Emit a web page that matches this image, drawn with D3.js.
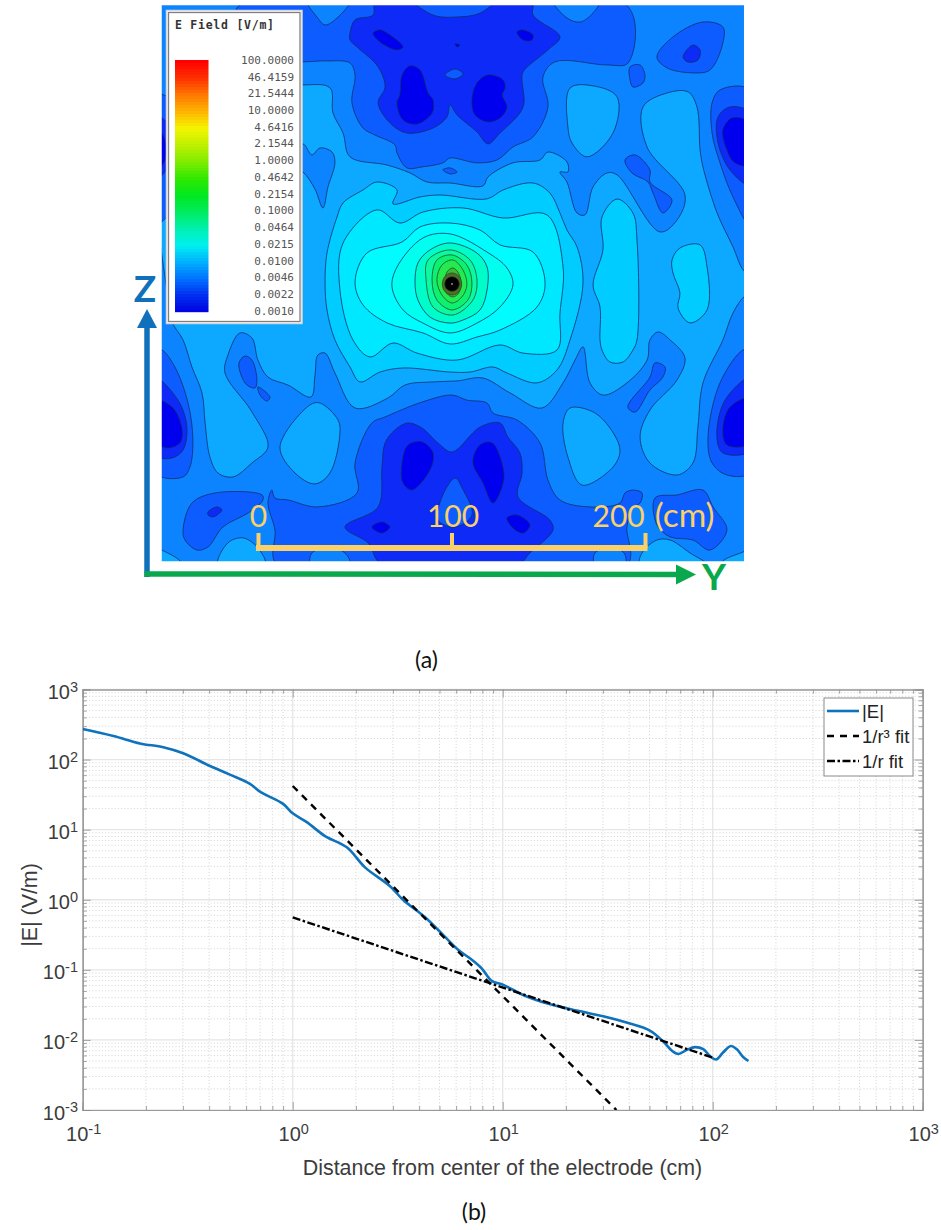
<!DOCTYPE html>
<html><head><meta charset="utf-8">
<script src="https://cdn.jsdelivr.net/npm/d3@7"></script>
<style>html,body{margin:0;padding:0;background:#fff}svg{display:block}</style>
</head><body><svg id="c" width="941" height="1230"></svg>
<script>
// ---------- (b) line chart data (r in cm, |E| in V/m) ----------
const radius = [0.1,0.14,0.1875,0.242,0.301,0.404,0.502,0.626,0.698,0.90,1.0,1.167,1.426,1.81,2.21,2.9,3.36,4.27,5.2,6.15,6.98,7.94,8.87,10.07,12.5,16.2,22.5,30.1,38.9,50.2,58.2,63.8,68.6,75.2,82.4,90.2,97,103.7,112,122,130,140,148];
const eField = [273,217,170,150,123,81,61,45,34.8,23.3,17.1,12.8,8.1,5.6,2.9,1.57,0.99,0.562,0.315,0.192,0.146,0.105,0.0695,0.061,0.0438,0.0333,0.0262,0.0218,0.01766,0.0136,0.00946,0.00705,0.0063,0.0072,0.0079,0.00736,0.0059,0.00525,0.0066,0.0082,0.00741,0.00566,0.005];
const fitCubeR = [1,34.8], fitCubeE = [42,0.001];
const fitInvR = [1,100], fitInvE = [0.56,0.0056];
const decadeX = [0.1,1,10,100,1000], decadeY = [0.001,0.01,0.1,1,10,100,1000];
const legendB = ["|E|","1/r³ fit","1/r fit"];

// ---------- (a) field map: contour outlines as [Y cm, Z cm], each with its level ----------
const legendLabels = ["100.0000","46.4159","21.5444","10.0000","4.6416","2.1544","1.0000","0.4642","0.2154","0.1000","0.0464","0.0215","0.0100","0.0046","0.0022","0.0010"];
const barValues = [100,46.4159,21.5444,10,4.6416,2.1544,1,0.4642,0.2154,0.1,0.0464,0.0215,0.01,0.0046,0.0022,0.001];
const barColors = ["#ff0000","#ff3000","#ff7800","#ffb400","#f4f400","#c0f000","#80ec00","#30e800","#00e820","#00ec60","#00f0b0","#00f0f0","#00b0ff","#0070ff","#0030f0","#0000e0"];
const levelColors = ["#0000ee","#0a2cf6","#0a5cff","#0a84ff","#0aa8ff","#00ccff","#00e8ff","#00fcff","#00ffee","#00fcc8","#08f8a0","#10f070","#28e850","#3fb838","#5a6a28","#000000"];

const topL3=[[-10,144],[190.4,144],[191,114.2],[180,113.2],[153.2,114.8],[147,107],[149.6,91.5],[141.8,76],[131.5,70.8],[123.3,64.1],[112.9,62.6],[99,65.1],[95.3,62.6],[84.5,60.5],[76.7,60],[71.6,67.7],[70.5,71.9],[60.2,77],[54,80.6],[48.3,93.6],[49.9,108],[47.3,114.2],[35.4,115.3],[23,114.8],[-10,114.8]];
const topLobeL=[[25,147],[30.2,138],[34.4,133.9],[40.6,137.5],[47.5,147]];
const topLobeR=[[152,147],[159.4,137.5],[166.1,135.4],[172.9,140.1],[176.5,147]];
const topL2=[[47.3,129.7],[49.9,136.5],[59.2,139],[60.7,147],[141.3,147],[141.9,139],[155.8,127.7],[149.6,121],[136.7,109.6],[136.2,105.5],[137.2,93.6],[135.1,88.4],[124.8,78],[118.6,72.4],[112.9,78.6],[102.6,87.4],[99,92.5],[97.4,86.3],[90.2,80.6],[76.7,78],[68,83.2],[61.8,93.6],[65.4,101.8],[61.8,112.2],[50.9,122.5],[47.3,126.1]];
const topCenterLobe=[[79.8,147],[90.2,139],[102.6,138],[114.5,140],[122.2,147]];
const topBlobL=[[71.6,93.6],[73.1,97.7],[74.2,108],[78.3,112.7],[83.5,110.6],[87.6,98.7],[90.2,95.1],[89.7,88.4],[81.9,82.7],[74.7,84.8]];
const topBlobR=[[110.3,95.1],[112.9,103.9],[118.6,108],[126.4,105.5],[127.4,101.3],[125.9,97.7],[128.4,91.5],[124.8,85.8],[118.6,83.8],[111.9,87.4]];
const topDashL=[[59.2,129.7],[62.8,131.3],[66.4,129.7],[74.7,122.5],[71.6,121],[62.8,125.1]];
const topDashR=[[133.6,130.2],[136.2,131.3],[141.9,128.7],[141.3,126.1],[136.7,126.1]];
const topSpeck=[[101.6,124.1],[104.1,123.5],[102.6,122.5]];
const topIsle=[[96.4,108],[101.6,111.1],[105.7,108.6],[101.6,106]];
const topIsle2=[[95.3,59],[99,60],[102.6,57.9],[99,56.9]];

const mainL5=[[23,102.9],[37,101.3],[38.5,88.4],[43.7,78],[47.3,65.7],[66.4,61.5],[78.3,57.4],[87.1,52.7],[99,52.2],[116,50.7],[118.6,55.3],[131.5,62.6],[145.5,64.1],[149.6,68.2],[159.4,63.1],[159.9,57.9],[155.8,57.9],[159.4,52.7],[164.6,36.7],[168.7,35.7],[172.9,50.2],[180.1,57.4],[185.3,56.4],[207.5,26.9],[216.3,33.1],[220.4,46],[200.8,70.8],[198.7,91.5],[211.1,98.7],[222,99.3],[226.6,91.5],[228.2,69.3],[229.7,60.5],[237,36.7],[245.2,19.2],[250.4,7.3],[254,4.7],[254,-5.6],[250.9,-6.7],[245.2,-15],[240,-28.9],[229.7,-51.1],[227.1,-73.9],[224.5,-92.5],[216.3,-98.7],[202.3,-92.5],[197.2,-79.1],[202.3,-65.1],[216.3,-49.6],[220.4,-38.2],[212.7,-28.9],[206.5,-24.8],[202.3,-28.9],[200.8,-39.3],[190.4,-51.1],[178,-57.4],[171.3,-51.1],[167.7,-32.5],[163.6,-39.3],[157.4,-51.1],[146.5,-64.1],[130,-56.3],[116,-48.6],[102.6,-50.1],[89.7,-50.6],[75.7,-52.2],[66.9,-58.9],[49.9,-64.1],[39.5,-46],[34.4,-35.7],[30.7,-36.7],[29.2,-47],[27.1,-58.4],[15.2,-52.2],[4.9,-48.1],[-0.3,-39.3],[-3.4,-27.9],[-9.6,-25.3],[-15.8,-36.7],[-17.3,-46],[-3.4,-66.1],[4.9,-84.2],[-3.4,-92.5],[-13.2,-99.7],[-20.9,-97.7],[-25.1,-89.4],[-27.6,-71.8],[-29.2,-56.3],[-34.4,-42.9],[-39,-28.9],[-44.7,-19.6],[-46.8,-8.2],[-46.8,95.1]];
const isleLowerLeft=[[11.1,-84.2],[18.9,-97.7],[29.2,-103.3],[36.9,-97.7],[42.1,-77],[41.1,-70.3],[31.8,-61.5],[26.6,-62.5]];
const isleUpperRight=[[161,101.3],[172.9,102.4],[185.3,96.7],[183.2,78],[169.8,65.7],[162,72.9],[159.9,81.2]];
const isleLowerRight=[[157.4,-71.8],[161,-64.1],[172.9,-66.1],[181.6,-74.4],[186.8,-85.8],[183.2,-94.6],[167.2,-103.9],[159.9,-89.4]];
const pocketLeft=[[16.3,69.3],[23,72.4],[27.6,66.7],[31.8,70.3],[38,68.2],[39.5,62.6],[35.9,50.2],[33.3,39.3],[29.2,49],[23,57.9],[16.3,61.5]];
const spotA=[[189.4,64.1],[194.6,66.7],[202.3,58.9],[202.3,52.7],[213.7,43.4],[209,36.7],[203.9,47],[201.3,52.7],[193,57.4]];
const spotB=[[192,112.2],[197.2,113.2],[199.7,108],[198.7,103.9],[193.5,101.8],[192,105.5]];
const ovalTR3=[[205.9,117.3],[214.2,127.7],[229.7,135.4],[240,132.8],[240,124.6],[233.3,110.6],[224.5,109.1],[211.1,111.7]];
const ovalTR2=[[219.4,117.3],[224.5,123.5],[228.2,120.9],[227.1,115.8],[222,114.7]];
const edgeUR3=[[254,100.3],[238.5,100.3],[234.4,93.6],[234.4,78],[238.5,62.6],[245.2,45],[254,30.5]];
const edgeUR2=[[254,88.4],[243.7,91.5],[237.5,86.3],[237.5,72.9],[243.7,58.9],[254,51.2]];
const edgeUR1=[[254,83.2],[244.7,85.8],[240,79.6],[242.1,69.3],[246.2,62.6],[254,61.5]];
const edgeUL3=[[-53.5,97.7],[-38,89.9],[-35.4,69.3],[-43.2,40.8],[-53.5,30.5]];
const edgeUL2=[[-53.5,87.4],[-44.7,79.6],[-44.7,64.1],[-53.5,53.8]];
const edgeUL1=[[-53.5,82.2],[-48.3,74.4],[-48.3,64.1],[-53.5,57.9]];
const tongueL6=[[177.5,34.6],[185.3,43.9],[193.5,36.7],[195.6,22.8],[195.6,-28.9],[193.5,-34.1],[188.4,-40.3],[181.6,-40.3],[177.5,-34.1],[176.5,-28.9],[176.5,-11.9],[172.9,-0.5],[178,17.6]];
const isleL6=[[213.7,12.4],[217.8,18.6],[228.2,20.2],[231.8,8.8],[231.8,-13.4],[223,-20.1],[216.8,-12.4],[217.8,-4.6],[214.2,5.7]];
const coreL6=[[34.4,0.5],[35.4,16],[40.6,34.7],[43.7,41.9],[54,48.6],[61.2,52.7],[71.6,48.6],[69.5,41.4],[83.5,45],[93.8,46],[118.1,44],[126.4,48.6],[141.9,52.2],[150.6,47],[155.8,36.7],[159.4,27.9],[164.6,19.2],[167.7,0.5],[161,-28.9],[154.3,-44.4],[143.9,-51.1],[128.4,-46],[121.2,-42.9],[109.3,-45.5],[99,-45.5],[74.7,-43.4],[62.8,-45.5],[52.4,-50.6],[47.3,-42.9],[39.5,-28.9],[35.4,-13.4]];
const coreL7=[[43.7,21.2],[61.2,38.3],[73.1,31.5],[85,37.2],[105.7,39.3],[126.4,34.1],[149.1,35.7],[157.4,8.8],[155.8,-15],[154.3,-34.1],[136.7,-35.7],[124.8,-31.5],[102.6,-39.3],[81.9,-35.7],[69.5,-30.5],[57.6,-37.7],[48.8,-28.9],[42.1,-3.1]];
const coreL8=[[49.9,1],[56,16],[74.2,21.7],[83.5,29.5],[99,31.5],[114.5,27.9],[124.8,20.2],[141.9,16.5],[148.1,0.5],[143.9,-11.9],[124.8,-23.8],[112.9,-27.4],[99,-31],[85,-25.3],[66.4,-20.1],[54,-10.8]];
const coreL9=[[69,-1.5],[71.6,8.8],[85,23.8],[99,25.9],[118.1,16.5],[128.4,8.3],[131.5,-0.5],[124.8,-11.9],[112.9,-20.2],[99,-25.3],[85,-20.2],[74.7,-13.4]];
const coreL10=[[80.9,0.5],[82.4,10.9],[88.6,17.6],[99,21.2],[112.9,16],[118.1,8.8],[118.1,-3.1],[114.5,-13.4],[105.7,-18.6],[99,-20.2],[88.6,-17.1],[82.4,-8.3]];
const coreL11=[[86.6,2.1],[87.6,12.4],[99,17.6],[109.3,12.4],[112.9,2.1],[110.8,-8.3],[100.5,-16],[90.2,-11.9]];
const coreL12=[[89.7,2.1],[92.2,12.4],[100,15],[107.7,9.8],[110.3,0.5],[108.2,-8.3],[100,-13.4],[92.2,-8.3]];
const coreL13=[[92.2,2.1],[94.8,9.8],[100.5,12.4],[105.7,7.2],[107.7,-0.5],[105.1,-6.7],[100,-9.8],[94.8,-5.7]];
const coreL14=[[96.4,0.5],[97.4,6.2],[100.5,8.3],[103.6,5.2],[104.6,-0.5],[103.1,-5.2],[100,-6.7],[96.9,-4.1]];
const coreL15=[[95,0],[96.4,4],[100,5.7],[103.6,4],[105,0],[103.6,-4],[100,-5.7],[96.4,-4]];
const coreL16=[[96.2,0],[97.3,2.7],[100,3.8],[102.7,2.7],[103.8,0],[102.7,-2.7],[100,-3.8],[97.3,-2.7]];
const coreDot=[[99.6,0],[100,0.5],[100.4,0],[100,-0.5]];

const domeL3=[[9.6,-145],[8.5,-127.1],[4.9,-113.2],[6.9,-106.5],[8.5,-110.6],[15.2,-111.6],[30.7,-115.2],[50.9,-108],[49.9,-92.5],[58.6,-71.8],[65.4,-68.7],[84.5,-61],[100,-57.4],[107.7,-60],[118.1,-61.5],[121.2,-66.7],[133.6,-70.3],[145.5,-82.2],[149.6,-101.3],[155.8,-111.6],[171.3,-115.2],[186.8,-113.2],[189.4,-108],[193.5,-106.5],[198.2,-108],[197.2,-113.2],[193,-115.8],[190.4,-125.6],[190.4,-145.2]];
const domeLobeL=[[27.1,-145],[27.6,-139],[37,-136.4],[44.7,-139],[47.3,-145]];
const domeLobeR=[[173.9,-145],[173.9,-139],[181.6,-136.4],[188.9,-139],[189.4,-145]];
const domeL2=[[63.8,-145],[56.6,-133.8],[44.7,-125.6],[61.8,-115.2],[63.8,-94.6],[65.4,-82.2],[70.5,-75.4],[77.3,-71.8],[84.5,-74.4],[92.8,-82.2],[100,-86.8],[114.5,-73.9],[124.8,-71.8],[128.9,-79.1],[135.1,-87.3],[136.2,-97.7],[134.1,-110],[150.6,-122],[152.2,-127.1],[140.3,-139],[134.1,-145]];
const domeNotch=[[92.8,-122],[95.3,-109],[101.6,-100.3],[105.2,-105.4],[110.3,-119.4],[101.6,-125.6]];
const domeBlobL=[[74.2,-92.5],[77.3,-83.2],[84.5,-81.6],[90.2,-87.3],[88.6,-96.1],[79.3,-106.4],[74.7,-102.8]];
const domeBlobR=[[110.8,-92],[114.5,-83.2],[120.7,-82.1],[126.4,-95.1],[126.4,-102.8],[121.2,-113.2],[116,-102.8]];
const domeSpotL=[[58.6,-125.6],[63.8,-123],[67.9,-125.6],[63.8,-128.7]];
const domeSpotR=[[128.4,-120.9],[133.6,-119.4],[140.3,-124.5],[136.7,-128.7],[131.5,-126.1]];
const lowLeft3=[[-39,-127.1],[-34.4,-113.2],[-22.5,-108],[1.8,-109],[2.3,-111.6],[-5.4,-118.3],[-18.4,-125.6],[-26.1,-135.9],[-31.8,-137.5],[-38,-132.3]];
const lowLeft2=[[-26.1,-117.8],[-21.5,-115.2],[-18.9,-116.8],[-23.5,-120.4],[-26.1,-119.3]];
const lowLobeL=[[-20.9,-145],[-15.8,-133.8],[-8,-131.2],[-0.3,-136.4],[3.4,-145]];
const cornerBL=[[-53.5,-135.9],[-49.9,-137.5],[-40.6,-143.1],[-39.5,-146.7],[-53.5,-146.7]];
const cornerBR=[[240,-143.1],[250.4,-138.5],[255,-136.4],[255,-146.7],[238.5,-146.7]];
const lowLobeR=[[197.2,-145],[198.2,-139],[205.9,-132.3],[212.7,-132.3],[223,-139],[231.8,-145]];
const lowRight3=[[204.9,-110.6],[216.3,-109],[229.7,-106.5],[234.9,-115.2],[242.1,-127.1],[233.3,-137.5],[224.5,-132.3],[212.7,-130.7],[205.9,-124.5]];
const edgeLL3=[[-53.5,-34.1],[-49.9,-34.1],[-43.2,-42.9],[-36.4,-61.5],[-33.9,-80.6],[-35.4,-94.5],[-39,-99.7],[-53.5,-97.6]];
const edgeLL2=[[-53.5,-48.6],[-41.6,-60],[-37,-73.9],[-39,-85.8],[-44.7,-89.9],[-53.5,-88.4]];
const edgeLL1=[[-53.5,-60],[-44.2,-64.1],[-39.5,-75.4],[-40.6,-82.1],[-46.8,-84.7],[-53.5,-81.6]];
const edgeLR3=[[255,-34.1],[250.4,-34.1],[238.5,-51.1],[232.3,-79.1],[234.4,-92.5],[242.1,-98.7],[255,-97.1]];
const edgeLR2=[[255,-48.1],[241.1,-60],[236.9,-79.1],[240,-87.3],[255,-85.8]];
const edgeLR1=[[255,-58.9],[243.7,-63.6],[240,-75.4],[242.1,-83.2],[255,-82.1]];
const lobeBlob=[[-10.1,-40.8],[-7,-37.2],[-3.4,-39.3],[-0.8,-49.6],[-1.8,-53.7],[-6,-52.2],[-9,-47]];
const lobeBlob2=[[-0.3,-53.2],[5.9,-58.4],[4.4,-60.5],[0.8,-57.4]];
const spotC=[[190.9,-63.6],[202.3,-48.1],[204.9,-40.8],[210.1,-42.9],[209,-48.1],[202.3,-54.8],[194.6,-66.2]];

// painter's order: [level index, outline]
const fieldLayers=[
 [2,topL3],[3,topLobeL],[3,topLobeR],[1,topL2],[2,topCenterLobe],[0,topBlobL],[0,topBlobR],[0,topDashL],[0,topDashR],[0,topSpeck],[2,topIsle],[2,topIsle2],
 [4,mainL5],[4,isleLowerLeft],[4,isleUpperRight],[4,isleLowerRight],[3,pocketLeft],
 [2,spotA],[2,spotB],[2,ovalTR3],[1,ovalTR2],[2,edgeUR3],[1,edgeUR2],[0,edgeUR1],[2,edgeUL3],[1,edgeUL2],[0,edgeUL1],
 [5,tongueL6],[5,isleL6],[5,coreL6],[6,coreL7],[7,coreL8],[8,coreL9],[9,coreL10],[10,coreL11],[11,coreL12],[12,coreL13],[13,coreL14],[14,coreL15],[15,coreL16],
 [2,domeL3],[3,domeLobeL],[3,domeLobeR],[1,domeL2],[2,domeNotch],[0,domeBlobL],[0,domeBlobR],[0,domeSpotL],[0,domeSpotR],
 [2,lowLeft3],[1,lowLeft2],[4,lowLobeL],[4,cornerBL],[4,cornerBR],[4,lowLobeR],[2,lowRight3],
 [2,edgeLL3],[1,edgeLL2],[0,edgeLL1],[2,edgeLR3],[1,edgeLR2],[0,edgeLR1],[2,lobeBlob],[2,lobeBlob2],[2,spotC]
];
const scaleBarTicks=[0,100,200];

// ---------- drawing ----------
const svg=d3.select("#c");
const defs=svg.append("defs");
const Y=d3.scaleLinear().domain([0,200]).range([258.5,645.5]);
const Z=d3.scaleLinear().domain([-100,100]).range([477.5,90.5]);
const mapX0=Y(-50), mapX1=Y(250.9), mapY0=Z(144), mapY1=Z(-143.3);
defs.append("clipPath").attr("id","mapClip").append("rect").attr("x",mapX0).attr("y",mapY0).attr("width",mapX1-mapX0).attr("height",mapY1-mapY0);
defs.append("filter").attr("id","soft").append("feGaussianBlur").attr("stdDeviation",0.5);

const map=svg.append("g").attr("clip-path","url(#mapClip)").append("g").attr("filter","url(#soft)");
map.append("rect").attr("x",mapX0-5).attr("y",mapY0-5).attr("width",mapX1-mapX0+10).attr("height",mapY1-mapY0+10).attr("fill",levelColors[3]);
const outline=d3.line().x(d=>Y(d[0])).y(d=>Z(d[1])).curve(d3.curveCatmullRomClosed.alpha(0.5));
map.selectAll("path.c").data(fieldLayers).join("path").attr("class","c")
  .attr("d",d=>outline(d[1])).attr("fill",d=>levelColors[d[0]])
  .attr("stroke",d=>d[0]>=10?"#14502a":"#0a2c66").attr("stroke-width",0.9).attr("stroke-opacity",0.85);
map.append("path").attr("d",outline(coreDot)).attr("fill","#c8c8c8");

// field legend
const lg=svg.append("g");
lg.append("rect").attr("x",166.5).attr("y",10.5).attr("width",135.5).attr("height",313).attr("fill","#fff").attr("stroke","#d8d8d8").attr("stroke-width",1.5);
lg.append("rect").attr("x",168.5).attr("y",12.5).attr("width",131.5).attr("height",309).attr("fill","#fff").attr("stroke","#808080").attr("stroke-width",1.3);
lg.append("text").attr("x",175).attr("y",29).attr("font-family","DejaVu Sans Mono").attr("font-weight","bold").attr("font-size",11.5).attr("letter-spacing",0.75).attr("fill","#333").text("E Field [V/m]");
const barPos=d3.scalePoint().domain(barValues).range([60,311]);
const barColor=d3.scaleLog().domain(barValues).range(barColors).interpolate(d3.interpolateRgb);
const barLog=d3.scaleLog().domain([0.001,100]).range([311,60]);
d3.range(0,84).forEach(i=>{
  const v=barLog.invert(60+i*3);
  lg.append("rect").attr("x",175).attr("y",60+i*3).attr("width",33.5).attr("height",3.2).attr("fill",barColor(v));
});
lg.selectAll("text.l").data(legendLabels).join("text").attr("class","l")
  .attr("x",294).attr("y",(d,i)=>barPos(barValues[i])+3.8).attr("text-anchor","end")
  .attr("font-family","DejaVu Sans Mono").attr("font-size",11).attr("fill","#555").text(d=>d);

// axes of the field map
const blue="#1070bc", green="#0aa84c", gold="#fbd066";
svg.append("line").attr("x1",147).attr("x2",147).attr("y1",577).attr("y2",322).attr("stroke",blue).attr("stroke-width",5.5);
svg.append("path").attr("d",d3.line()([[137,328],[147,309],[157,328]])+"Z").attr("fill",blue);
svg.append("text").attr("x",145).attr("y",302).attr("text-anchor","middle").attr("font-family","Lato").attr("font-weight","bold").attr("font-size",37).attr("fill",blue).text("Z");
svg.append("line").attr("x1",144.5).attr("x2",680).attr("y1",574).attr("y2",574.5).attr("stroke",green).attr("stroke-width",5.5);
svg.append("path").attr("d",d3.line()([[676,564.5],[696,574.5],[676,584.5]])+"Z").attr("fill",green);
svg.append("text").attr("x",714).attr("y",590).attr("text-anchor","middle").attr("font-family","Lato").attr("font-weight","bold").attr("font-size",37).attr("fill",green).text("Y");

// scale bar
svg.append("line").attr("x1",Y(0)-2.5).attr("x2",Y(200)+2).attr("y1",548).attr("y2",548).attr("stroke",gold).attr("stroke-width",6);
svg.selectAll("line.sb").data(scaleBarTicks).join("line").attr("class","sb")
  .attr("x1",d=>Y(d)).attr("x2",d=>Y(d)).attr("y1",533).attr("y2",548).attr("stroke",gold).attr("stroke-width",4);
const sbText=(x,a,t)=>svg.append("text").attr("x",x).attr("y",527).attr("text-anchor",a).attr("font-family","Lato").attr("font-size",30).attr("fill",gold).text(t);
sbText(Y(0),"middle","0"); sbText(Y(100)+1,"middle","100");
const sb200=sbText(Y(200)-53,"start","200");
sb200.append("tspan").attr("dx",10).attr("font-size",33.5).text("(cm)");

const cap=(x,y,t)=>svg.append("text").attr("x",x).attr("y",y).attr("text-anchor","middle").attr("font-family","Lato").attr("font-size",23).attr("fill","#111").text(t);
cap(426.5,668,"(a)");

// ---------- (b) ----------
const x=d3.scaleLog().domain([0.1,1000]).range([82.7,922.7]);
const y=d3.scaleLog().domain([0.001,1000]).range([1110,689.5]);
const isMajor=v=>Math.abs(Math.log10(v)-Math.round(Math.log10(v)))<1e-6;
const xAll=x.ticks(), yAll=y.ticks();
const xMinor=xAll.filter(v=>!isMajor(v)), yMinor=yAll.filter(v=>!isMajor(v));
const gp=svg.append("g");
const dot={stroke:"#d2d2d2","stroke-width":1,"stroke-dasharray":"1 2.2"};
const setA=(s,o)=>{Object.entries(o).forEach(([k,v])=>s.attr(k,v));return s;};
setA(gp.selectAll("line.gx").data(xMinor).join("line").attr("x1",x).attr("x2",x).attr("y1",689.5).attr("y2",1110),dot);
setA(gp.selectAll("line.gy").data(yMinor).join("line").attr("y1",y).attr("y2",y).attr("x1",82.7).attr("x2",922.7),dot);
gp.selectAll("line.mx").data(decadeX).join("line").attr("x1",x).attr("x2",x).attr("y1",689.5).attr("y2",1110).attr("stroke","#e6e6e6").attr("stroke-width",1.3);
gp.selectAll("line.my").data(decadeY).join("line").attr("y1",y).attr("y2",y).attr("x1",82.7).attr("x2",922.7).attr("stroke","#e6e6e6").attr("stroke-width",1.3);

const axisStyle=g=>{g.select(".domain").attr("stroke","#9a9a9a").attr("stroke-width",1.2);g.selectAll(".tick line").attr("stroke","#8a8a8a").attr("stroke-width",0.8);g.selectAll(".tick text").remove();};
const tickAxes=(maker,scale,vals,size,tx)=>{svg.append("g").attr("transform",tx).call(maker(scale).tickValues(vals).tickSize(size).tickFormat("")).call(axisStyle);};
tickAxes(d3.axisBottom,x,xMinor,-4,"translate(0,1110)");tickAxes(d3.axisBottom,x,decadeX,-8,"translate(0,1110)");
tickAxes(d3.axisTop,x,xMinor,-4,"translate(0,689.5)");tickAxes(d3.axisTop,x,decadeX,-8,"translate(0,689.5)");
tickAxes(d3.axisLeft,y,yMinor,-4,"translate(82.7,0)");tickAxes(d3.axisLeft,y,decadeY,-8,"translate(82.7,0)");
tickAxes(d3.axisRight,y,yMinor,-4,"translate(922.7,0)");tickAxes(d3.axisRight,y,decadeY,-8,"translate(922.7,0)");

const font="'Liberation Sans'", txt="#3c3c3c";
const pow=(sel,val,px,py,anchor)=>{
  const e=Math.round(Math.log10(val));
  const t=sel.append("text").attr("x",px).attr("y",py).attr("text-anchor",anchor).attr("font-family",font).attr("font-size",20).attr("fill",txt);
  t.append("tspan").text("10");
  t.append("tspan").attr("dy",-7.5).attr("font-size",14.5).text(e);
};
decadeX.forEach(v=>pow(svg,v,x(v)+1,1141,"middle"));
decadeY.forEach(v=>pow(svg,v,78,y(v)+9.5,"end"));
svg.append("text").attr("x",502.5).attr("y",1175).attr("text-anchor","middle").attr("font-family",font).attr("font-size",21.4).attr("fill",txt).text("Distance from center of the electrode (cm)");
svg.append("text").attr("transform","translate(37,905) rotate(-90)").attr("text-anchor","middle").attr("font-family",font).attr("font-size",21.4).attr("fill",txt).text("|E| (V/m)");
cap(474,1220,"(b)");

defs.append("clipPath").attr("id","plotClip").append("rect").attr("x",82.7).attr("y",689.5).attr("width",840).attr("height",420.5);
const line=d3.line().x(d=>x(d[0])).y(d=>y(d[1]));
const plot=svg.append("g").attr("clip-path","url(#plotClip)");
const cubeStyle={stroke:"#000","stroke-width":2.4,"stroke-dasharray":"7 6",fill:"none"};
const invStyle={stroke:"#000","stroke-width":2.4,"stroke-dasharray":"8 2.5 2.5 2.5",fill:"none"};
const blueStyle={stroke:"#0f72bd","stroke-width":2.6,fill:"none"};
setA(plot.append("path").attr("d",d3.line().x(d=>x(d[0])).y(d=>y(d[1])).curve(d3.curveCatmullRom.alpha(0.5))(d3.zip(radius,eField))),blueStyle);
setA(plot.append("path").attr("d",line(d3.zip(fitCubeR,fitCubeE))),cubeStyle);
setA(plot.append("path").attr("d",line(d3.zip(fitInvR,fitInvE))),invStyle);

// plot legend
const lb=svg.append("g");
lb.append("rect").attr("x",824).attr("y",698).attr("width",89).attr("height",78).attr("fill","#fff").attr("stroke","#8a8a8a").attr("stroke-width",1);
const lbRow=d3.scaleOrdinal().domain(legendB).range([711,736,761]);
[blueStyle,cubeStyle,invStyle].forEach((st,i)=>setA(lb.append("line").attr("x1",827).attr("x2",859).attr("y1",lbRow(legendB[i])).attr("y2",lbRow(legendB[i])),st));
lb.selectAll("text").data(legendB).join("text").attr("x",862).attr("y",d=>lbRow(d)+6.5).attr("font-family",font).attr("font-size",18.5).attr("fill","#222").text(d=>d);
</script></body></html>
